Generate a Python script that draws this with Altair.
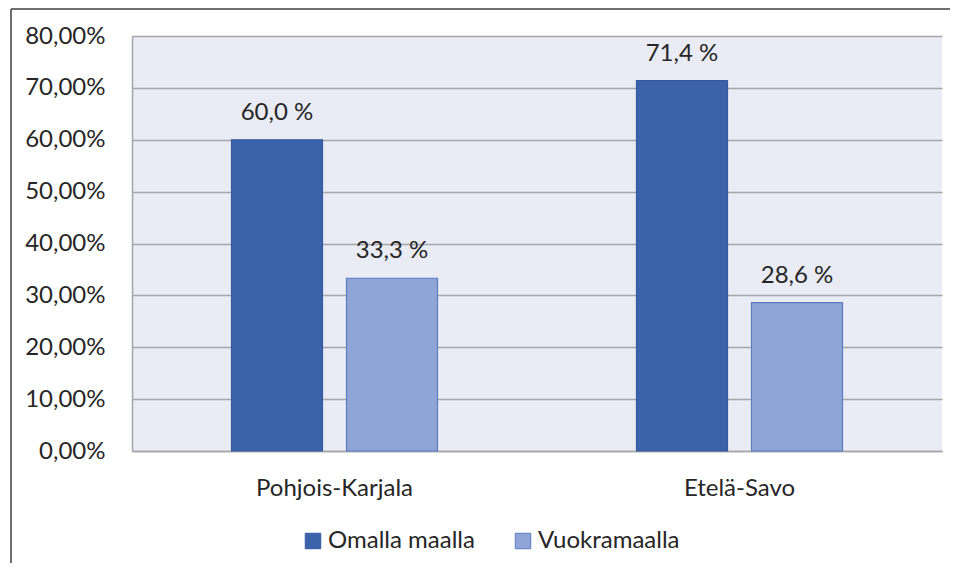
import altair as alt
import pandas as pd

regions = ["Pohjois-Karjala", "Etelä-Savo"]
series = ["Omalla maalla", "Vuokramaalla"]
omalla = [60.0, 71.4]
vuokra = [33.3, 28.6]
y_ticks = [0, 10, 20, 30, 40, 50, 60, 70, 80]

rows = []
for i, r in enumerate(regions):
    for s, vals in zip(series, [omalla, vuokra]):
        v = vals[i]
        rows.append({"region": r, "series": s, "value": v,
                     "label": f"{v:.1f}".replace(".", ",") + " %"})
df = pd.DataFrame(rows)

FONT = "Lato"
FS = 24
TXT = "#262626"
W, H = 810, 415

x_enc = alt.X("region:N", sort=regions, title=None,
              scale=alt.Scale(paddingInner=0, paddingOuter=0),
              axis=alt.Axis(labelAngle=0, labelFont=FONT, labelFontSize=FS, labelColor=TXT,
                            labelBaseline="alphabetic", labelPadding=44, ticks=False,
                            domainColor="#A6A6A6", domainWidth=1.5))
xo_enc = alt.XOffset("series:N", sort=series,
                     scale=alt.Scale(paddingInner=0.2087, paddingOuter=0.865))

base = alt.Chart(df)

bars = base.mark_bar(strokeWidth=1.2).encode(
    x=x_enc,
    xOffset=xo_enc,
    y=alt.Y("value:Q", title=None,
            scale=alt.Scale(domain=[0, 80], nice=False),
            axis=alt.Axis(values=y_ticks, labelFont=FONT, labelFontSize=FS, labelColor=TXT,
                          labelPadding=27, ticks=False, domainColor="#A6A6A6", domainWidth=1.5,
                          gridColor="#A6A6A6", gridWidth=1.5,
                          labelExpr="replace(format(datum.value, '.2f'), '.', ',') + '%'")),
    fill=alt.Fill("series:N", sort=series,
                  scale=alt.Scale(domain=series, range=["#3A63AB", "#8FA5D7"]),
                  legend=alt.Legend(title=None, orient="none", direction="horizontal",
                                    legendX=169, legendY=493, padding=0,
                                    symbolType="square", symbolSize=240,
                                    symbolStrokeColor="#4A6AB0", symbolStrokeWidth=1,
                                    labelFont=FONT, labelFontSize=FS, labelColor=TXT,
                                    labelOffset=3, columnPadding=36)),
    stroke=alt.Stroke("series:N", sort=series,
                      scale=alt.Scale(domain=series, range=["#355A9E", "#5D7CC0"]),
                      legend=None),
)

labels = base.mark_text(font=FONT, fontSize=FS, color=TXT, baseline="alphabetic", dy=-20).encode(
    x=alt.X("region:N", sort=regions),
    xOffset=alt.XOffset("series:N", sort=series),
    y=alt.Y("value:Q"),
    text="label:N",
)

frame_data = alt.Data(values=[{"k": 1}])
left_frame = alt.Chart(frame_data).mark_rule(color="#404040", strokeWidth=1.5).encode(
    x=alt.value(-121), y=alt.value(-27), y2=alt.value(H + 120))
top_frame = alt.Chart(frame_data).mark_rule(color="#404040", strokeWidth=1.5).encode(
    x=alt.value(-121), x2=alt.value(W + 20), y=alt.value(-27))

chart = alt.layer(bars, labels, left_frame, top_frame).properties(
    width=W, height=H,
    autosize=alt.AutoSizeParams(type="none"),
    padding={"left": 124, "top": 28, "right": 8, "bottom": 112},
    background="white",
).configure_view(fill="#E9EBF5", strokeWidth=0)

chart.save("out.html", embed_options={"renderer": "svg", "actions": False})
